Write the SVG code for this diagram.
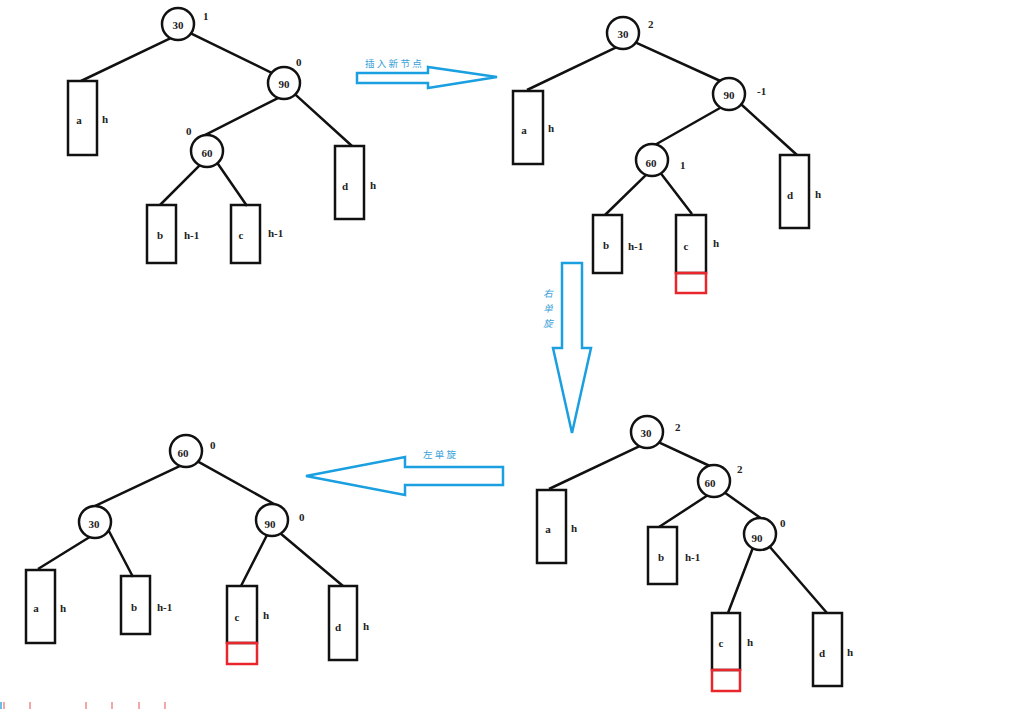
<svg xmlns="http://www.w3.org/2000/svg" width="1015" height="710" viewBox="0 0 1015 710">
<style>
.n{fill:#fff;stroke:#111;stroke-width:2.5}
.b{fill:none;stroke:#111;stroke-width:2.5}
.r{fill:none;stroke:#e8262b;stroke-width:2.5}
.e{stroke:#111;stroke-width:2.5;fill:none}
.t{font-family:"Liberation Serif","DejaVu Serif",serif;font-size:11px;font-weight:bold;fill:#222;text-anchor:middle;dominant-baseline:central}
.l{font-family:"Liberation Serif","DejaVu Serif",serif;font-size:11px;font-weight:bold;fill:#222;dominant-baseline:central}
.ar{fill:none;stroke:#1a9fe0;stroke-width:2.5;stroke-linejoin:miter}
.cn{font-family:"Noto Sans CJK SC",sans-serif;font-size:9.5px;fill:#3a9fd8;dominant-baseline:central}
.tick{stroke:#f08a8a;stroke-width:1.5}
</style>
<rect width="1015" height="710" fill="#fff"/>

<g id="connectors">
<path class="e" d="M171.7 37.7L81 81M189.3 32.7L272.7 73.3M279.4 97.3L201.4 136.8M294.3 93.6L352 146M201.1 163.9L160 205M216.3 161.5L247 206"/>
<path class="e" d="M617.7 46.7L527 90M634.3 41.8L721.5 81.5M722.6 106.5L650.4 147.5M740 103.3L797 155M647.1 173.9L605 215M659.6 171.8L692 214"/>
<path class="e" d="M180.7 465.7L90.5 508.1M196.3 460.6L275 504.5M89.7 537L38 569M108.1 529.5L133 577M267.9 533.2L241 586M278.5 531.7L343 586"/>
<path class="e" d="M640.7 445.7L549 489M657.3 441.7L712 467M708.4 494.8L659 527M723.9 492.1L762 519M753.1 547.2L728 613M768 544.7L827 613"/>
</g>

<!-- Top-left tree -->
<g id="tl-30"><circle class="n" cx="178" cy="24" r="16"/><text class="t" x="178" y="25">30</text><text class="l" x="203" y="16">1</text></g>
<g id="tl-90"><circle class="n" cx="284" cy="83" r="16"/><text class="t" x="284" y="84">90</text><text class="l" x="296" y="62">0</text></g>
<g id="tl-60"><circle class="n" cx="207" cy="151" r="16"/><text class="t" x="207" y="153">60</text><text class="l" x="186" y="131">0</text></g>
<g id="tl-a"><rect class="b" x="68" y="81" width="29" height="74"/><text class="t" x="79" y="120">a</text><text class="l" x="102" y="119">h</text></g>
<g id="tl-d"><rect class="b" x="335" y="146" width="29" height="73"/><text class="t" x="345" y="186">d</text><text class="l" x="370" y="185">h</text></g>
<g id="tl-b"><rect class="b" x="147" y="205" width="29" height="58"/><text class="t" x="160" y="235">b</text><text class="l" x="184" y="235">h-1</text></g>
<g id="tl-c"><rect class="b" x="231" y="205" width="29" height="58"/><text class="t" x="241" y="235">c</text><text class="l" x="268" y="233">h-1</text></g>

<!-- insert arrow -->
<g id="arrow-insert">
<path class="ar" d="M357 73H428V67L497 77L428 88V83H357Z"/>
<text class="cn" x="365" y="63" letter-spacing="2.3">插入新节点</text>
</g>

<!-- Top-right tree -->
<g id="tr-30"><circle class="n" cx="623" cy="33" r="16"/><text class="t" x="623" y="34">30</text><text class="l" x="648" y="24">2</text></g>
<g id="tr-90"><circle class="n" cx="729" cy="94" r="16"/><text class="t" x="729" y="95">90</text><text class="l" x="757" y="91">-1</text></g>
<g id="tr-60"><circle class="n" cx="652" cy="160" r="16"/><text class="t" x="651" y="163">60</text><text class="l" x="680" y="165">1</text></g>
<g id="tr-a"><rect class="b" x="513" y="91" width="30" height="73"/><text class="t" x="524" y="130">a</text><text class="l" x="548" y="128">h</text></g>
<g id="tr-d"><rect class="b" x="780" y="155" width="29" height="73"/><text class="t" x="790" y="195">d</text><text class="l" x="815" y="194">h</text></g>
<g id="tr-b"><rect class="b" x="593" y="215" width="29" height="58"/><text class="t" x="606" y="245">b</text><text class="l" x="628" y="246">h-1</text></g>
<g id="tr-c"><rect class="b" x="676" y="215" width="30" height="58"/><rect class="r" x="676" y="273" width="30" height="20"/><text class="t" x="686" y="246">c</text><text class="l" x="713" y="243">h</text></g>

<!-- right rotation arrow -->
<g id="arrow-right-rot">
<path class="ar" d="M562 263H582V348H591L572 433L553 348H562Z"/>
<text class="cn" x="548" y="293" text-anchor="middle" font-style="italic">右</text>
<text class="cn" x="548" y="308" text-anchor="middle" font-style="italic">单</text>
<text class="cn" x="548" y="323" text-anchor="middle" font-style="italic">旋</text>
</g>

<!-- Bottom-right tree -->
<g id="br-30"><circle class="n" cx="647" cy="432" r="16"/><text class="t" x="646" y="433">30</text><text class="l" x="675" y="427">2</text></g>
<g id="br-60"><circle class="n" cx="714" cy="481" r="16"/><text class="t" x="710" y="483">60</text><text class="l" x="737" y="469">2</text></g>
<g id="br-90"><circle class="n" cx="760" cy="534" r="16"/><text class="t" x="757" y="538">90</text><text class="l" x="780" y="523">0</text></g>
<g id="br-a"><rect class="b" x="537" y="490" width="29" height="73"/><text class="t" x="548" y="529">a</text><text class="l" x="571" y="528">h</text></g>
<g id="br-b"><rect class="b" x="648" y="527" width="29" height="57"/><text class="t" x="661" y="557">b</text><text class="l" x="685" y="557">h-1</text></g>
<g id="br-c"><rect class="b" x="712" y="613" width="28" height="57"/><rect class="r" x="712" y="670" width="28" height="21"/><text class="t" x="721" y="643">c</text><text class="l" x="747" y="642">h</text></g>
<g id="br-d"><rect class="b" x="813" y="613" width="29" height="73"/><text class="t" x="822" y="653">d</text><text class="l" x="847" y="652">h</text></g>

<!-- left rotation arrow -->
<g id="arrow-left-rot">
<path class="ar" d="M503 467H405V457L306 476L405 495V485H503Z"/>
<text class="cn" x="423" y="454" letter-spacing="2.2">左单旋</text>
</g>

<!-- Bottom-left tree -->
<g id="bl-60"><circle class="n" cx="186" cy="451" r="16"/><text class="t" x="183" y="453">60</text><text class="l" x="210" y="445">0</text></g>
<g id="bl-30"><circle class="n" cx="95" cy="522" r="16"/><text class="t" x="94" y="524">30</text></g>
<g id="bl-90"><circle class="n" cx="272" cy="520" r="16"/><text class="t" x="270" y="524">90</text><text class="l" x="299" y="517">0</text></g>
<g id="bl-a"><rect class="b" x="26" y="570" width="29" height="73"/><text class="t" x="36" y="608">a</text><text class="l" x="60" y="608">h</text></g>
<g id="bl-b"><rect class="b" x="121" y="576" width="29" height="58"/><text class="t" x="134" y="607">b</text><text class="l" x="157" y="607">h-1</text></g>
<g id="bl-c"><rect class="b" x="227" y="586" width="30" height="57"/><rect class="r" x="227" y="643" width="30" height="21"/><text class="t" x="237" y="617">c</text><text class="l" x="263" y="615">h</text></g>
<g id="bl-d"><rect class="b" x="329" y="586" width="28" height="74"/><text class="t" x="338" y="627">d</text><text class="l" x="363" y="626">h</text></g>

<!-- bottom edge marks -->
<g id="marks">
<line x1="1" y1="702" x2="1" y2="709" stroke="#3aa8e0" stroke-width="1.5"/>
<line class="tick" x1="4" y1="702" x2="4" y2="709"/>
<line class="tick" x1="30" y1="702" x2="30" y2="709"/>
<line class="tick" x1="86" y1="702" x2="86" y2="709"/>
<line class="tick" x1="112" y1="702" x2="112" y2="709"/>
<line class="tick" x1="139" y1="702" x2="139" y2="709"/>
<line class="tick" x1="165" y1="702" x2="165" y2="709"/>
</g>
</svg>
